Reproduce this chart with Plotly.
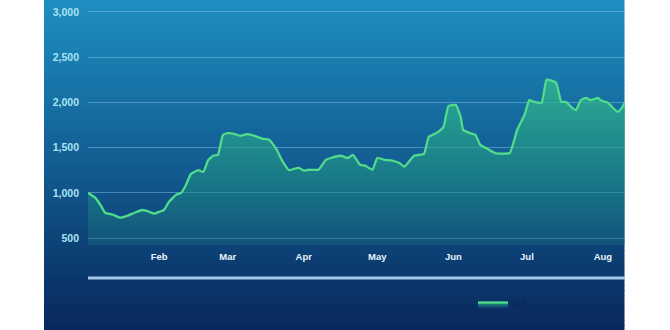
import plotly.graph_objects as go

dates = ["2023-01-03","2023-01-06","2023-01-08","2023-01-10","2023-01-13","2023-01-16","2023-01-19",
         "2023-01-22","2023-01-25","2023-01-27","2023-01-30","2023-02-01","2023-02-03","2023-02-05",
         "2023-02-08","2023-02-10","2023-02-12","2023-02-14","2023-02-17","2023-02-19","2023-02-21",
         "2023-02-23","2023-02-25","2023-02-27","2023-03-01","2023-03-04","2023-03-06","2023-03-09",
         "2023-03-12","2023-03-15","2023-03-18","2023-03-21","2023-03-23","2023-03-26","2023-03-28",
         "2023-03-30","2023-04-01","2023-04-03","2023-04-07","2023-04-10","2023-04-12","2023-04-16",
         "2023-04-19","2023-04-21","2023-04-24","2023-04-26","2023-04-29","2023-05-01","2023-05-04",
         "2023-05-07","2023-05-10","2023-05-12","2023-05-16","2023-05-20","2023-05-22","2023-05-25",
         "2023-05-28","2023-05-30","2023-06-02","2023-06-04","2023-06-05","2023-06-08","2023-06-10",
         "2023-06-12","2023-06-15","2023-06-18","2023-06-24","2023-06-26","2023-06-27","2023-06-30",
         "2023-07-02","2023-07-04","2023-07-07","2023-07-09","2023-07-11","2023-07-13","2023-07-15",
         "2023-07-17","2023-07-19","2023-07-21","2023-07-23","2023-07-25","2023-07-27","2023-07-30",
         "2023-07-31","2023-08-03","2023-08-07","2023-08-09","2023-08-10"]
values = [1000,945,870,780,760,725,745,
          780,810,800,770,790,810,900,
          980,1000,1090,1210,1250,1230,1360,
          1410,1420,1640,1660,1650,1630,1650,
          1630,1600,1585,1475,1365,1250,1265,
          1275,1245,1255,1255,1365,1385,1410,
          1385,1420,1310,1300,1255,1385,1365,
          1355,1330,1290,1410,1430,1620,1660,
          1730,1960,1970,1840,1695,1660,1640,
          1530,1485,1440,1440,1600,1695,1860,
          2025,2005,1995,2250,2240,2215,2005,
          2005,1950,1915,2025,2050,2025,2050,
          2025,1995,1895,1950,2005]
series_name = "R2"
month_ticks = ["2023-02-01","2023-03-01","2023-04-01","2023-05-01","2023-06-01","2023-07-01","2023-08-01"]
month_labels = ["Feb","Mar","Apr","May","Jun","Jul","Aug"]
y_ticks = [500, 1000, 1500, 2000, 2500, 3000]

W, H = 670, 330
ML, MR, MT, MB = 88, 45, 5, 85
PW, PH = W - ML - MR, H - MT - MB

def px2paper_x(p):
    return (p - ML) / PW

def px2paper_y(p):
    return (H - MB - p) / PH

fig = go.Figure()
fig.add_trace(go.Scatter(
    x=dates, y=values, name=series_name, mode="lines",
    line=dict(color="#50dc8a", width=2.3, shape="spline", smoothing=0.4),
    fill="tozeroy",
    fillgradient=dict(type="vertical",
                      colorscale=[[0, "rgba(25,110,125,0.15)"], [0.45, "rgba(30,145,130,0.5)"],
                                  [1, "rgba(50,185,140,0.8)"]]),
    hoverinfo="skip",
))

# gradient panel background
top = (30, 142, 192)
mid = (18, 92, 145)
bot = (8, 40, 92)
shapes = []
N = 66
step = H / N
for i in range(N):
    t = i / (N - 1)
    if t < 0.5:
        u = t / 0.5
        c = [round(top[k] + (mid[k] - top[k]) * u) for k in range(3)]
    else:
        u = (t - 0.5) / 0.5
        c = [round(mid[k] + (bot[k] - mid[k]) * u) for k in range(3)]
    y0p = i * step
    y1p = (i + 1) * step + 0.6
    shapes.append(dict(type="rect", xref="paper", yref="paper",
                       x0=px2paper_x(44), x1=px2paper_x(624.5),
                       y0=px2paper_y(y1p), y1=px2paper_y(y0p),
                       fillcolor=f"rgb({c[0]},{c[1]},{c[2]})", line=dict(width=0),
                       layer="below"))
# light horizontal bar below axis
shapes.append(dict(type="line", xref="paper", yref="paper",
                   x0=0, x1=1, y0=px2paper_y(278), y1=px2paper_y(278),
                   line=dict(color="#a6c9e6", width=3), layer="above"))

fig.update_layout(
    width=W, height=H,
    margin=dict(l=ML, r=MR, t=MT, b=MB),
    paper_bgcolor="white",
    plot_bgcolor="rgba(0,0,0,0)",
    shapes=shapes,
    showlegend=True,
    legend=dict(x=px2paper_x(473), y=px2paper_y(290), xanchor="left", yanchor="top",
                orientation="h", bgcolor="rgba(0,0,0,0)",
                font=dict(color="#0c2550", size=10, family="Liberation Sans")),
    xaxis=dict(type="date", range=["2023-01-03", "2023-08-10"],
               tickvals=month_ticks, ticktext=month_labels,
               showgrid=False, zeroline=False, showline=False,
               ticklabelstandoff=4,
               tickfont=dict(color="#eaf4fb", size=9.5, family="Liberation Sans", weight="bold")),
    yaxis=dict(range=[423, 3077], tickvals=y_ticks, tickformat=",d",
               showgrid=True, gridcolor="rgba(140,205,235,0.45)", gridwidth=1.2,
               zeroline=False, showline=False, ticklabelstandoff=8,
               tickfont=dict(color="#a9e3f2", size=10.5, family="Liberation Sans", weight="bold")),
)

fig.write_html("out.html")
